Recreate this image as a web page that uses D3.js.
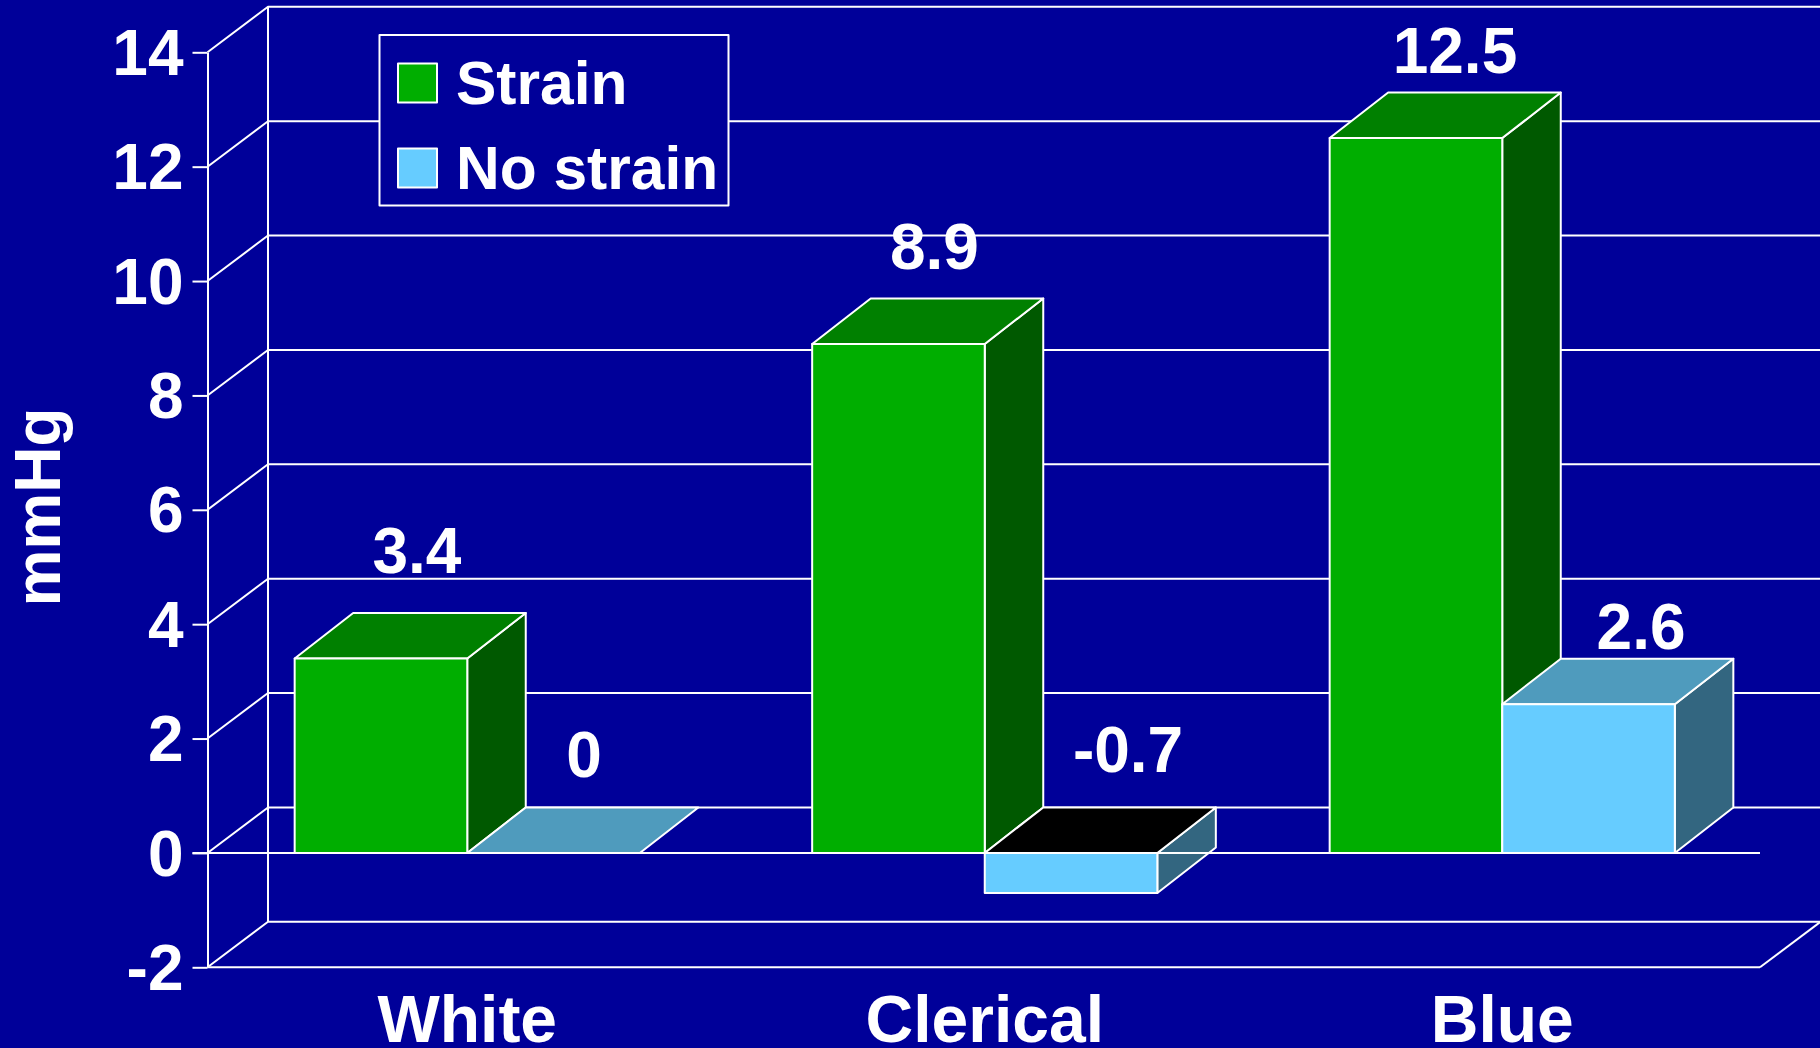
<!DOCTYPE html>
<html>
<head>
<meta charset="utf-8">
<title>Blood pressure change under job strain</title>
<script src="https://cdn.jsdelivr.net/npm/d3@7"></script>
<style>
  html, body { margin: 0; padding: 0; background: #000099; overflow: hidden; }
  svg { display: block; }
  text { font-family: "Liberation Sans", Arial, sans-serif; font-weight: 700; fill: #fff; }
</style>
</head>
<body>
<svg id="chart" width="1820" height="1048"></svg>
<script>
// Chart data
const categories = ["White", "Clerical", "Blue"];
const seriesNames = ["Strain", "No strain"];
const strainValues = [3.4, 8.9, 12.5];
const noStrainValues = [0, -0.7, 2.6];
const valueTicks = [-2, 0, 2, 4, 6, 8, 10, 12, 14];
const unitLabel = "mmHg";

// Layout
const W = 1820, H = 1048;
const frontLeft = 207.5, frontRight = 1760;
const depthX = 60.5, depthY = -45.5;
const barDepthX = 58.5;
const tickLength = 15;
const strokeW = 2;
const colors = {
  bg: "#000099",
  line: "#ffffff",
  Strain: { front: "#00ae00", top: "#008000", side: "#005900" },
  "No strain": { front: "#66ccff", top: "#4f9bbd", side: "#336680", under: "#000000" }
};
// Hand-placed value labels: offset from the bar's front-face centre and top edge
const labelOffsets = {
  Strain: [[36, -85], [36, -75], [39, -65]],
  "No strain": [[30.5, -76], [57, -81], [52.5, -55]]
};

const svg = d3.select("#chart");
svg.append("rect").attr("width", W).attr("height", H).attr("fill", colors.bg);

const y = d3.scaleLinear().domain([-2, 14]).range([967.3, 52.3]);
const x0 = d3.scaleBand().domain(categories).range([frontLeft + 1, frontRight + 1])
  .paddingInner(0.333).paddingOuter(0.1665);
const x1 = d3.scaleBand().domain(seriesNames).range([0, x0.bandwidth()]);

const path = d3.line();
const strokeStyle = sel => sel.attr("stroke", colors.line).attr("stroke-width", strokeW)
  .attr("stroke-linejoin", "round").attr("fill", "none");

// Back wall, its gridlines and the side wall diagonals
const wall = svg.append("g").call(strokeStyle);
const backX = frontLeft + depthX, backRight = frontRight + depthX;
valueTicks.forEach(v => {
  wall.append("path").attr("d", path([
    [frontLeft, y(v)], [backX, y(v) + depthY], [backRight, y(v) + depthY]
  ]));
});
wall.append("path").attr("d", path([
  [backX, y(-2) + depthY], [backX, y(14) + depthY]
]));
wall.append("path").attr("d", path([
  [frontRight, y(-2)], [backRight, y(-2) + depthY]
]));

// Value axis
const yAxis = svg.append("g")
  .attr("transform", `translate(${frontLeft},0)`)
  .call(d3.axisLeft(y).tickValues(valueTicks).tickFormat(String)
    .tickSize(tickLength).tickSizeOuter(0).tickPadding(9));
yAxis.selectAll("path, line").attr("stroke", colors.line).attr("stroke-width", strokeW);
yAxis.selectAll("text").attr("font-size", 64).attr("fill", "#fff").attr("dy", "0.345em")
  .style("font-family", '"Liberation Sans", Arial, sans-serif').style("font-weight", 700);

// Floor front edge
svg.append("line").attr("x1", frontLeft).attr("x2", frontRight)
  .attr("y1", y(-2)).attr("y2", y(-2)).call(strokeStyle);

// Category axis, drawn below the floor
const xAxis = svg.append("g")
  .attr("transform", `translate(0,${y(-2)})`)
  .call(d3.axisBottom(x0).tickSize(0).tickPadding(27.5));
xAxis.select(".domain").remove();
xAxis.selectAll("text").attr("font-size", 66).attr("fill", "#fff")
  .style("font-family", '"Liberation Sans", Arial, sans-serif').style("font-weight", 700);

// 3D bars: side, top, then front face
function drawBar(g, cat, name, value) {
  const c = colors[name];
  const xl = x0(cat) + x1(name), xr = xl + x1.bandwidth();
  const yTop = y(Math.max(value, 0)), yBase = y(Math.min(value, 0));
  const bar = g.append("g").call(strokeStyle);
  const poly = (pts, fill) => bar.append("path").attr("d", path(pts) + "Z").attr("fill", fill);
  if (yBase > yTop) {
    poly([[xr, yTop], [xr + barDepthX, yTop + depthY], [xr + barDepthX, yBase + depthY], [xr, yBase]], c.side);
  }
  poly([[xl, yTop], [xl + barDepthX, yTop + depthY], [xr + barDepthX, yTop + depthY], [xr, yTop]],
    value < 0 ? c.under : c.top);
  if (yBase > yTop) {
    poly([[xl, yTop], [xr, yTop], [xr, yBase], [xl, yBase]], c.front);
  }
}

const bars = svg.append("g");
categories.forEach((cat, i) => {
  drawBar(bars, cat, "Strain", strainValues[i]);
  drawBar(bars, cat, "No strain", noStrainValues[i]);
});

// Zero line runs over the bars
svg.append("line").attr("x1", frontLeft - tickLength).attr("x2", frontRight)
  .attr("y1", y(0)).attr("y2", y(0)).call(strokeStyle);

// Value labels
const labels = svg.append("g").attr("font-size", 64).attr("text-anchor", "middle");
[["Strain", strainValues], ["No strain", noStrainValues]].forEach(([name, values]) => {
  values.forEach((v, i) => {
    const cat = categories[i];
    const cx = x0(cat) + x1(name) + x1.bandwidth() / 2;
    const [dx, dy] = labelOffsets[name][i];
    labels.append("text")
      .attr("x", cx + dx)
      .attr("y", y(Math.max(v, 0)) + dy)
      .text(String(v));
  });
});

// Axis title
svg.append("text")
  .attr("transform", "translate(59.5,507) rotate(-90)")
  .attr("text-anchor", "middle").attr("font-size", 64)
  .text(unitLabel);

// Legend
const legend = svg.append("g");
legend.append("rect").attr("x", 379.5).attr("y", 35).attr("width", 349).attr("height", 170.5)
  .call(strokeStyle).attr("fill", colors.bg);
seriesNames.forEach((name, i) => {
  const rowY = 63.5 + i * 85;
  legend.append("rect").attr("x", 398).attr("y", rowY).attr("width", 39).attr("height", 39)
    .call(strokeStyle).attr("fill", colors[name].front);
  legend.append("text").attr("x", 456).attr("y", rowY + 40.5)
    .attr("font-size", 60.5).text(name);
});
</script>
</body>
</html>
